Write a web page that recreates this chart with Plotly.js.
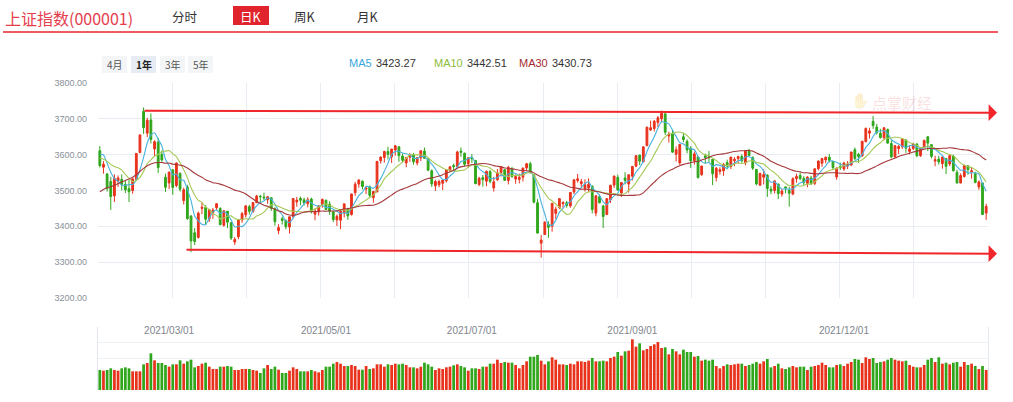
<!DOCTYPE html>
<html><head><meta charset="utf-8">
<script src="https://cdn.plot.ly/plotly-3.0.1.min.js"></script>
<style>html,body{margin:0;padding:0;background:#fff;}#chart{width:1013px;height:402px;}</style>
</head><body><div id="chart"></div>
<script>
const dates = ["2021-01-26","2021-01-27","2021-01-28","2021-01-29",
"2021-02-01","2021-02-02","2021-02-03","2021-02-04","2021-02-05","2021-02-08","2021-02-09","2021-02-10","2021-02-18","2021-02-19","2021-02-22","2021-02-23","2021-02-24","2021-02-25","2021-02-26",
"2021-03-01","2021-03-02","2021-03-03","2021-03-04","2021-03-05","2021-03-08","2021-03-09","2021-03-10","2021-03-11","2021-03-12","2021-03-15","2021-03-16","2021-03-17","2021-03-18","2021-03-19","2021-03-22","2021-03-23","2021-03-24","2021-03-25","2021-03-26","2021-03-29","2021-03-30","2021-03-31",
"2021-04-01","2021-04-02","2021-04-06","2021-04-07","2021-04-08","2021-04-09","2021-04-12","2021-04-13","2021-04-14","2021-04-15","2021-04-16","2021-04-19","2021-04-20","2021-04-21","2021-04-22","2021-04-23","2021-04-26","2021-04-27","2021-04-28","2021-04-29","2021-04-30",
"2021-05-06","2021-05-07","2021-05-10","2021-05-11","2021-05-12","2021-05-13","2021-05-14","2021-05-17","2021-05-18","2021-05-19","2021-05-20","2021-05-21","2021-05-24","2021-05-25","2021-05-26","2021-05-27","2021-05-28","2021-05-31",
"2021-06-01","2021-06-02","2021-06-03","2021-06-04","2021-06-07","2021-06-08","2021-06-09","2021-06-10","2021-06-11","2021-06-15","2021-06-16","2021-06-17","2021-06-18","2021-06-21","2021-06-22","2021-06-23","2021-06-24","2021-06-25","2021-06-28","2021-06-29","2021-06-30",
"2021-07-01","2021-07-02","2021-07-05","2021-07-06","2021-07-07","2021-07-08","2021-07-09","2021-07-12","2021-07-13","2021-07-14","2021-07-15","2021-07-16","2021-07-19","2021-07-20","2021-07-21","2021-07-22","2021-07-23","2021-07-26","2021-07-27","2021-07-28","2021-07-29","2021-07-30",
"2021-08-02","2021-08-03","2021-08-04","2021-08-05","2021-08-06","2021-08-09","2021-08-10","2021-08-11","2021-08-12","2021-08-13","2021-08-16","2021-08-17","2021-08-18","2021-08-19","2021-08-20","2021-08-23","2021-08-24","2021-08-25","2021-08-26","2021-08-27","2021-08-30","2021-08-31",
"2021-09-01","2021-09-02","2021-09-03","2021-09-06","2021-09-07","2021-09-08","2021-09-09","2021-09-10","2021-09-13","2021-09-14","2021-09-15","2021-09-16","2021-09-17","2021-09-22","2021-09-23","2021-09-24","2021-09-27","2021-09-28","2021-09-29","2021-09-30",
"2021-10-08","2021-10-11","2021-10-12","2021-10-13","2021-10-14","2021-10-15","2021-10-18","2021-10-19","2021-10-20","2021-10-21","2021-10-22","2021-10-25","2021-10-26","2021-10-27","2021-10-28","2021-10-29",
"2021-11-01","2021-11-02","2021-11-03","2021-11-04","2021-11-05","2021-11-08","2021-11-09","2021-11-10","2021-11-11","2021-11-12","2021-11-15","2021-11-16","2021-11-17","2021-11-18","2021-11-19","2021-11-22","2021-11-23","2021-11-24","2021-11-25","2021-11-26","2021-11-29","2021-11-30",
"2021-12-01","2021-12-02","2021-12-03","2021-12-06","2021-12-07","2021-12-08","2021-12-09","2021-12-10","2021-12-13","2021-12-14","2021-12-15","2021-12-16","2021-12-17","2021-12-20","2021-12-21","2021-12-22","2021-12-23","2021-12-24","2021-12-27","2021-12-28","2021-12-29","2021-12-30","2021-12-31",
"2022-01-04","2022-01-05","2022-01-06","2022-01-07","2022-01-10","2022-01-11","2022-01-12","2022-01-13","2022-01-14","2022-01-17","2022-01-18","2022-01-19","2022-01-20","2022-01-21","2022-01-24","2022-01-25","2022-01-26"];

const open = [3611,3565,3546,3525,3485,3526,3531,3517,3505,3500,
3531,3606,3721,3660,3697,3616,3635,3601,3537,3521,
3558,3514,3548,3472,3510,3429,3382,3369,3450,3453,
3421,3437,3452,3450,3403,3442,3410,3356,3371,3418,
3432,3455,3441,3466,3484,3482,3474,3480,3449,3388,
3421,3417,3398,3427,3468,3478,3474,3463,3476,3434,
3440,3461,3473,3462,3441,3418,3417,3437,3448,3433,
3494,3518,3526,3504,3510,3480,3496,3583,3592,3609,
3594,3613,3622,3596,3577,3593,3599,3577,3591,3610,
3588,3555,3513,3516,3520,3527,3557,3570,3567,3610,
3604,3575,3591,3584,3517,3536,3526,3553,3507,3530,
3550,3558,3528,3560,3532,3531,3537,3563,3575,3544,
3466,3353,3377,3405,3400,3436,3452,3463,3466,3457,
3496,3528,3519,3505,3507,3512,3437,3483,3457,3433,
3474,3515,3537,3493,3535,3518,3540,3568,3599,3580,
3625,3669,3673,3690,3700,3714,3652,3658,3601,3577,
3650,3637,3618,3583,3594,3544,3597,3594,3587,3536,
3553,3555,3578,3567,3583,3589,3595,3577,3610,3593,
3559,3515,3537,3543,3504,3500,3518,3490,3510,3500,
3490,3533,3542,3534,3520,3535,3520,3561,3576,3585,
3593,3581,3538,3567,3560,3568,3571,3614,3601,3596,
3636,3660,3693,3677,3660,3647,3670,3631,3594,3617,
3622,3641,3609,3617,3630,3597,3620,3650,3628,3582,
3588,3575,3589,3574,3596,3551,3521,3539,3569,3552,
3547,3510,3521,3437];

const high = [3624,3582,3549,3538,3545,3542,3545,3527,3529,3534,
3604,3656,3731.69,3703,3715,3640,3647,3612,3547,3552,
3559,3578,3550,3508,3516,3431,3395,3441,3468,3459,
3448,3451,3465,3453,3445,3443,3412,3370,3420,3440,
3459,3460,3467,3488,3488,3494,3485,3480,3453,3406,
3427,3418,3428,3478,3482,3483,3480,3481,3480,3449,
3459,3478,3474,3470,3441,3433,3445,3463,3452,3491,
3524,3532,3528,3513,3514,3499,3582,3595,3611,3622,
3616,3627,3623,3603,3592,3604,3605,3593,3611,3620,
3589,3559,3530,3530,3531,3559,3568,3575,3611,3620,
3606,3592,3602,3584,3538,3543,3555,3557,3538,3560,
3567,3560,3569,3566,3545,3547,3563,3577,3580,3545,
3476,3376,3414,3414,3465,3455,3478,3470,3471,3495,
3530,3546,3532,3531,3534,3514,3487,3489,3460,3479,
3516,3541,3544,3523,3551,3544,3568,3599,3599,3622,
3678,3695,3697,3708,3723,3715,3664,3671,3623,3630,
3661,3643,3624,3609,3594,3569,3603,3610,3587,3566,
3565,3577,3586,3594,3593,3597,3601,3610,3616,3594,
3560,3550,3559,3545,3513,3527,3519,3504,3511,3510,
3537,3547,3550,3540,3540,3541,3562,3584,3591,3595,
3602,3582,3564,3578,3580,3582,3608,3620,3605,3638,
3676,3675,3708,3686,3672,3677,3673,3640,3626,3627,
3646,3643,3626,3633,3631,3620,3642,3651,3628,3597,
3597,3594,3589,3598,3600,3558,3548,3572,3570,3566,
3552,3528,3522,3463];

const low = [3564,3547,3497,3446,3468,3510,3500,3493,3468,3491,
3531,3604,3658,3649,3631,3595,3549,3580,3496,3504,
3488,3509,3497,3461,3418,3328,3348,3366,3434,3403,
3412,3421,3445,3403,3399,3395,3362,3348,3364,3410,
3425,3433,3438,3465,3465,3473,3463,3443,3402,3378,
3405,3392,3380,3422,3455,3459,3458,3453,3436,3417,
3430,3452,3445,3432,3412,3401,3392,3425,3418,3430,
3485,3508,3503,3490,3480,3466,3495,3575,3578,3587,
3577,3597,3580,3578,3565,3580,3572,3570,3582,3588,
3554,3510,3499,3509,3501,3522,3552,3557,3565,3594,
3567,3564,3577,3518,3512,3511,3512,3520,3497,3527,
3539,3527,3517,3535,3519,3520,3525,3555,3547,3464,
3380,3312.72,3376,3368,3385,3420,3448,3450,3452,3452,
3490,3522,3510,3497,3495,3436,3428,3464,3395,3431,
3465,3507,3499,3482,3517,3494,3528,3565,3571,3579,
3624,3666,3665,3677,3690,3655,3634,3605,3581,3571,
3635,3604,3563,3572,3533,3541,3575,3580,3515,3525,
3544,3541,3559,3560,3568,3575,3578,3570,3597,3557,
3514,3513,3517,3482,3490,3492,3476,3483,3492,3455,
3487,3522,3529,3515,3509,3515,3515,3556,3566,3576,
3578,3557,3530,3557,3555,3560,3568,3585,3577,3595,
3636,3645,3672,3656,3645,3640,3630,3590,3590,3602,
3616,3605,3601,3613,3593,3594,3618,3610,3590,3568,
3572,3561,3546,3568,3553,3519,3520,3536,3544,3533,
3520,3502,3432,3418];

const close = [3569.43,3573.34,3505.18,3483.07,3533.68,3535.09,3517.31,3501.86,3496.33,3532.44,
3603.49,3655.09,3675.36,3696.17,3642.44,3636.36,3564.08,3585.05,3509.08,3551.40,
3508.59,3576.90,3503.49,3501.99,3421.41,3359.29,3357.74,3436.83,3453.08,3419.95,
3446.73,3445.55,3463.07,3404.66,3443.44,3411.51,3367.06,3363.59,3418.33,3435.30,
3457.07,3441.91,3466.33,3484.39,3482.48,3479.63,3482.56,3450.68,3412.95,3396.47,
3416.59,3398.99,3426.62,3477.55,3472.94,3472.68,3465.11,3474.17,3441.17,3442.61,
3457.07,3474.90,3446.86,3441.28,3418.87,3427.99,3441.85,3462.75,3429.54,3490.38,
3517.62,3529.01,3510.96,3506.94,3486.56,3497.28,3581.34,3593.36,3608.85,3600.78,
3615.48,3624.71,3597.14,3584.22,3591.84,3599.54,3580.11,3591.40,3610.86,3589.75,
3556.56,3518.33,3525.10,3525.10,3529.18,3557.41,3566.22,3566.65,3607.56,3606.37,
3573.18,3591.20,3588.78,3518.76,3534.32,3530.26,3553.72,3525.50,3524.09,3547.84,
3566.50,3528.50,3564.59,3539.30,3539.12,3536.79,3562.86,3574.73,3550.40,3467.44,
3381.18,3361.59,3411.72,3397.36,3464.29,3447.99,3477.22,3466.56,3458.23,3494.63,
3529.93,3532.62,3524.74,3516.30,3517.34,3446.98,3485.29,3465.55,3427.33,3477.13,
3514.47,3540.38,3501.66,3522.16,3528.15,3543.94,3567.10,3597.04,3581.73,3621.86,
3676.59,3675.19,3693.13,3703.11,3715.37,3662.60,3656.22,3607.09,3613.97,3628.49,
3642.22,3613.07,3582.83,3602.22,3536.29,3568.17,3592.17,3591.71,3546.94,3561.76,
3558.28,3572.37,3568.14,3593.15,3587.00,3594.78,3582.60,3609.86,3597.64,3562.31,
3518.42,3547.34,3544.48,3505.63,3498.54,3526.87,3491.57,3498.63,3507.00,3492.46,
3532.79,3539.10,3533.30,3521.79,3537.37,3520.71,3560.37,3582.08,3589.09,3592.70,
3584.18,3564.09,3562.70,3563.89,3576.89,3573.84,3607.43,3589.31,3595.09,3637.57,
3673.04,3666.35,3681.08,3661.53,3647.63,3675.02,3632.36,3593.60,3625.13,3622.62,
3643.34,3618.05,3615.97,3630.11,3597.00,3619.19,3639.78,3632.33,3595.18,3586.08,
3579.54,3593.52,3567.44,3597.43,3555.06,3521.26,3541.67,3569.91,3558.18,3555.06,
3522.57,3524.11,3433.06,3455.67];

// closes of the 29 sessions before the first candle (used only to warm up MA30)
const priorCloses = [3367.23,3366.98,3404.87,3394.90,3420.57,3356.78,3382.99,3363.11,3396.56,3397.29,
3379.04,3414.45,3473.07,3502.96,3528.68,3550.88,3576.20,3570.11,3531.50,3608.34,
3598.65,3565.90,3566.38,3596.22,3566.38,3583.09,3621.26,3606.75,3624.24];

const volume = [300,290,300,325,300,290,325,340,325,280,
280,280,385,405,550,445,405,405,375,350,
385,385,445,395,430,455,340,360,395,410,
350,315,315,350,350,360,350,300,300,315,
315,315,300,290,255,325,375,315,350,305,
255,255,290,340,315,280,280,280,300,280,
265,300,350,350,395,420,395,360,360,375,
360,305,305,360,315,325,385,385,350,385,
375,395,385,395,375,340,340,325,350,410,
385,350,300,325,315,340,350,370,385,360,
340,290,325,325,315,350,350,395,395,455,
405,420,410,410,375,325,375,430,500,500,
525,440,385,430,490,455,385,385,375,395,
385,430,430,420,440,480,430,430,440,430,
480,500,570,515,580,590,760,650,700,595,
615,660,685,720,630,640,535,615,580,535,
605,570,570,500,510,440,455,440,455,360,
325,360,385,375,385,395,395,360,375,395,
420,395,430,465,340,360,395,325,315,340,
360,340,350,350,300,350,360,375,410,375,
340,340,375,385,360,395,420,465,455,405,
490,465,480,405,420,430,455,480,455,440,
430,440,375,350,340,340,375,455,480,420,
490,395,410,385,410,420,350,420,375,395,
360,315,360,300];

const dateTickVals = ["2021-03-01","2021-04-30","2021-07-01","2021-09-01","2021-12-01"];
const dateTickText = ["2021/03/01","2021/05/01","2021/07/01","2021/09/01","2021/12/01"];
const priceTicks = [3200,3300,3400,3500,3600,3700,3800];
const maPeriods = [5,10,30];
const maNames = ["MA5","MA10","MA30"];
const maValues = ["3423.27","3442.51","3430.73"];
const navTabs = ["分时","日K","周K","月K"];
const rangeButtons = ["4月","1年","3年","5年"];

const RED = "#e8321c", GREEN = "#2fa61b";
const MA_COLORS = ["#47b2df","#a6c957","#a5393b"];
const MA_TEXT_COLORS = ["#3aa7dc","#8dbb3a","#a52a2d"];
const GRID = "#e8edf3";
const W = 1013, H = 402;
const px = v => v / W, py = v => 1 - v / H;

function movingAvg(n) {
  const all = priorCloses.concat(close), off = priorCloses.length;
  return close.map((_, i) => {
    let s = 0; const j = i + off;
    for (let k = j - n + 1; k <= j; k++) s += all[k];
    return s / n;
  });
}

const traces = [{
  type: "candlestick", x: dates, open: open, high: high, low: low, close: close,
  xaxis: "x", yaxis: "y", whiskerwidth: 0, hoverinfo: "skip",
  increasing: {line: {color: RED, width: 1}, fillcolor: RED},
  decreasing: {line: {color: GREEN, width: 1}, fillcolor: GREEN}
}];
maPeriods.forEach((n, k) => traces.push({
  type: "scatter", mode: "lines", x: dates, y: movingAvg(n), xaxis: "x", yaxis: "y",
  line: {color: MA_COLORS[k], width: 1.1, shape: "spline", smoothing: 0.6}, hoverinfo: "skip"
}));
traces.push({
  type: "bar", x: dates, y: volume, xaxis: "x2", yaxis: "y2", hoverinfo: "skip",
  marker: {color: close.map((c, i) => c >= open[i] ? RED : GREEN), line: {width: 0}}
});

const n = dates.length;
const gridVals = [];
for (let k = 0; k <= 12; k++) gridVals.push(-0.5 + k * n / 12);
const XD = [px(98), px(988)];

const CJK = "'Noto Sans CJK SC', 'Noto Sans', sans-serif";
const NUM = "'Liberation Sans', Arial, sans-serif";
const ann = [], shapes = [];
function txt(text, x, y, size, color, extra) {
  ann.push(Object.assign({text: text, xref: "paper", yref: "paper", x: px(x), y: py(y),
    xanchor: "center", yanchor: "middle", showarrow: false,
    font: {size: size, color: color, family: CJK}}, extra || {}));
}

txt("上证指数(000001)", 3, 17.5, 16, "#e63d4c", {xanchor: "left"});
shapes.push({type: "rect", xref: "paper", yref: "paper", x0: px(233), x1: px(269), y0: py(25), y1: py(6),
  fillcolor: "#e0232d", line: {width: 0}, layer: "below"});
const tabX = [185, 251, 305, 368];
navTabs.forEach((t, i) => txt(t, tabX[i], 16, 12.5, i === 1 ? "#ffffff" : "#333333"));
shapes.push({type: "line", xref: "paper", yref: "paper", x0: px(3), x1: px(998), y0: py(32), y1: py(32),
  line: {color: "#e8262d", width: 1.5}});

const btnX = [[102,127],[131,156],[160,185],[188,213]];
rangeButtons.forEach((t, i) => {
  shapes.push({type: "rect", xref: "paper", yref: "paper", x0: px(btnX[i][0]), x1: px(btnX[i][1]),
    y0: py(73), y1: py(56), fillcolor: i === 1 ? "#e7ebf3" : "#f4f5f7", line: {width: 0}, layer: "below"});
  txt(i === 1 ? "<b>" + t + "</b>" : t, (btnX[i][0] + btnX[i][1]) / 2, 64.5, 10, i === 1 ? "#222" : "#555");
});

const maX = [[347,374],[432,465],[517,550]];
maNames.forEach((m, k) => {
  txt(m, maX[k][0], 63, 11, MA_TEXT_COLORS[k], {xanchor: "left", font: {size: 11, family: NUM, color: MA_TEXT_COLORS[k]}});
  txt(maValues[k], maX[k][1], 63, 11, "#333", {xanchor: "left", font: {size: 11, family: NUM, color: "#333"}});
});

txt("点掌财经", 902, 102, 15, "rgba(226,90,90,0.20)");
txt("✋", 860, 100, 15, "rgba(226,90,90,0.20)");

// hand-drawn red channel lines with arrowheads
ann.push({text: "", xref: "paper", yref: "paper", x: px(997), y: py(112.7), axref: "pixel", ayref: "pixel",
  ax: -854, ay: -2, showarrow: true, arrowhead: 1, arrowsize: 1.4, arrowwidth: 2, arrowcolor: "#f0262b", standoff: 0, startstandoff: 0});
ann.push({text: "", xref: "paper", yref: "paper", x: px(997), y: py(253.7), axref: "pixel", ayref: "pixel",
  ax: -812, ay: -4, showarrow: true, arrowhead: 1, arrowsize: 1.4, arrowwidth: 2, arrowcolor: "#f0262b", standoff: 0, startstandoff: 0});

const layout = {
  width: W, height: H, margin: {l: 0, r: 0, t: 0, b: 0},
  paper_bgcolor: "#ffffff", plot_bgcolor: "#ffffff",
  showlegend: false, hovermode: false, bargap: 0.25,
  xaxis: {type: "category", domain: XD, range: [-0.5, n - 0.5], anchor: "y",
    tickmode: "array", tickvals: gridVals, showticklabels: false, ticks: "",
    showgrid: true, gridcolor: GRID, gridwidth: 1, zeroline: false, showline: false,
    rangeslider: {visible: false}, fixedrange: true},
  yaxis: {domain: [py(298), py(83)], range: [3200, 3800], anchor: "x",
    tickmode: "array", tickvals: priceTicks, tickformat: ".2f", ticks: "",
    tickfont: {size: 9, color: "#8a9099", family: NUM}, ticklabelstandoff: 10,
    showgrid: true, gridcolor: GRID, zeroline: false, showline: false, fixedrange: true},
  xaxis2: {type: "category", domain: XD, range: [-0.5, n - 0.5], anchor: "y2", side: "top",
    tickmode: "array", tickvals: dateTickVals, ticktext: dateTickText, ticks: "",
    tickfont: {size: 10, color: "#80858d", family: NUM}, ticklabelstandoff: -10,
    showgrid: false, zeroline: false, showline: false, fixedrange: true},
  yaxis2: {domain: [py(390), py(327)], range: [0, 945], anchor: "x2",
    tickmode: "array", tickvals: [0, 236.25, 472.5, 708.75, 945], showticklabels: false, ticks: "",
    showgrid: true, gridcolor: "#edf0f5", zeroline: false, showline: true, mirror: true,
    linecolor: "#e3e8ef", linewidth: 1, fixedrange: true},
  annotations: ann, shapes: shapes
};

Plotly.newPlot("chart", traces, layout, {displayModeBar: false, staticPlot: true});
</script>
</body></html>
